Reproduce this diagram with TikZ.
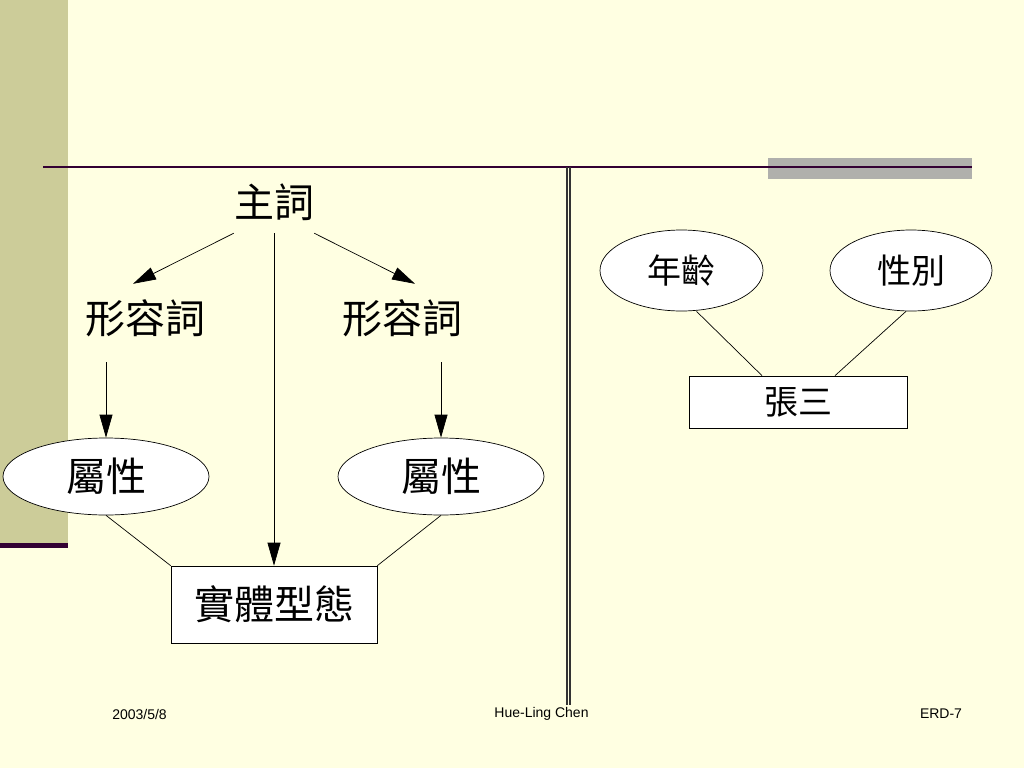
\documentclass[tikz,border=0pt]{standalone}
\usepackage{fontspec}
\setmainfont{Liberation Sans}
\newfontfamily\cjk{Noto Sans CJK TC}
\usepackage{tikz}
\usetikzlibrary{shapes.geometric,arrows.meta,positioning}
\definecolor{bg}{RGB}{255,255,226}
\definecolor{bar}{RGB}{204,204,153}
\definecolor{rule}{RGB}{51,0,51}
\definecolor{gbar}{RGB}{176,176,172}
\tikzstyle{t1} = [inner sep=0pt, font=\cjk\fontsize{40}{44}\selectfont]
\tikzstyle{e1} = [ellipse, draw, fill=white, inner sep=0pt, line width=0.7pt, font=\cjk\fontsize{40}{44}\selectfont]
\tikzstyle{b1} = [rectangle, draw, fill=white, inner sep=0pt, line width=0.7pt, font=\cjk\fontsize{40}{44}\selectfont]
\tikzstyle{e2} = [ellipse, draw, fill=white, inner sep=0pt, line width=0.7pt, font=\cjk\fontsize{34}{38}\selectfont]
\tikzstyle{b2} = [rectangle, draw, fill=white, inner sep=0pt, line width=0.7pt, font=\cjk\fontsize{34}{38}\selectfont]
\tikzstyle{f1} = [inner sep=0pt, font=\fontsize{14}{16}\selectfont]
\tikzstyle{a1} = [line width=0.7pt, -{Triangle[length=23pt,width=13pt]}]
\tikzstyle{c1} = [line width=0.7pt]

\begin{document}
\begin{tikzpicture}[x=1pt, y=-1pt]
\useasboundingbox (0,0) rectangle (1024,768);
\fill[bg] (0,0) rectangle (1024,768);
% slide frame
\fill[bar] (0,0) rectangle (68,548);
\fill[rule] (0,543) rectangle (68,548);
\fill[gbar] (768,158) rectangle (972,179);
\draw[rule, line width=2pt] (43,167) -- (972,167);
\draw[black!80, line width=1.3pt] (567,167) -- (567,705);
\draw[black!80, line width=1.3pt] (570,167) -- (570,705);
% left diagram
\node(A)[t1, minimum height=62pt] at (274,202) {主詞};
\node(B)[t1, minimum height=68pt] at (145,318) {形容詞};
\node(C)[t1, minimum height=68pt] at (402,318) {形容詞};
\node(D)[e1, minimum width=206pt, minimum height=77pt] at (106,476.5) {屬性};
\node(F)[e1, minimum width=206pt, minimum height=77pt] at (441,476.5) {屬性};
\node(E)[b1, minimum width=206pt, minimum height=77pt] at (274,604.5) {實體型態};
\draw[a1](A.south west)--([xshift=-12pt]B.north);
\draw[a1](A.south east)--([xshift=13pt]C.north);
\draw[a1](A.south)--(E.north);
\draw[a1](B.south -| D.north) ++(0,10)--(D.north);
\draw[a1](C.south -| F.north) ++(0,10)--(F.north);
\draw[c1](D.south)--(E.north west);
\draw[c1](F.south)--(E.north east);
% right diagram
\node(G)[e2, minimum width=163pt, minimum height=81pt] at (681.5,270.5) {年齡};
\node(H)[e2, minimum width=162pt, minimum height=81pt] at (911,270.5) {性別};
\node(I)[b2, minimum width=218pt, minimum height=52pt] at (798,402) {張三};
\draw[c1]([xshift=15pt]G.south)--([xshift=-36pt]I.north);
\draw[c1]([xshift=-5pt]H.south)--([xshift=37pt]I.north);
% footer
\node(J)[f1] at (139.5,714) {2003/5/8};
\node(K)[f1] at (541.5,714) {Hue-Ling Chen};
\node(L)[f1] at (941,714) {ERD-7};
\end{tikzpicture}
\end{document}
